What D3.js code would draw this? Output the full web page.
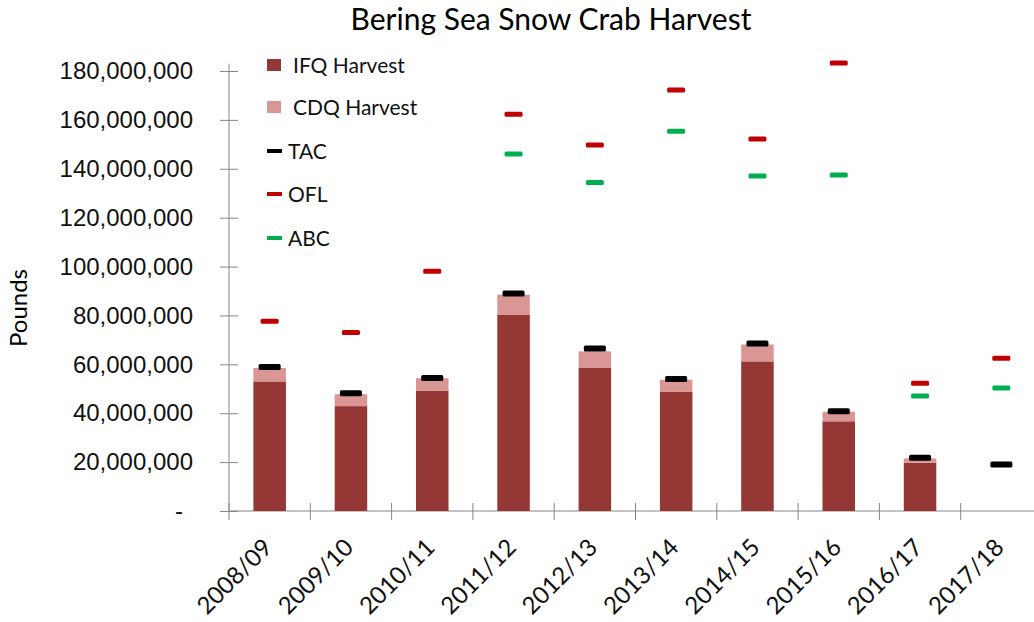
<!DOCTYPE html>
<html>
<head>
<meta charset="utf-8">
<script src="https://cdn.jsdelivr.net/npm/d3@7"></script>
<style>
  body { margin: 0; background: #fff; }
  svg { font-family: Lato, "Open Sans", sans-serif; }
  .axis path, .axis line { stroke: #868686; }
</style>
</head>
<body>
<div id="chart"></div>
<script>
// seasons on the x axis
const seasons = ['2008/09', '2009/10', '2010/11', '2011/12', '2012/13',
                 '2013/14', '2014/15', '2015/16', '2016/17', '2017/18'];
// harvest, pounds (null = no harvest yet)
const ifq = [53.0e6, 42.9e6, 49.1e6, 80.2e6, 58.5e6, 48.7e6, 61.2e6, 36.7e6, 19.7e6, null];
const cdq = [5.5e6, 4.9e6, 5.2e6, 8.3e6, 6.8e6, 5.0e6, 6.9e6, 3.9e6, 1.8e6, null];
// reference points
const tac = [58.9e6, 48.2e6, 54.4e6, 89.0e6, 66.5e6, 54.0e6, 68.5e6, 40.8e6, 21.8e6, 19.0e6];
const ofl = [77.6e6, 73.0e6, 98.1e6, 162.3e6, 149.7e6, 172.2e6, 152.2e6, 183.3e6, 52.3e6, 62.5e6];
const abc = [null, null, null, 146.0e6, 134.4e6, 155.4e6, 137.0e6, 137.5e6, 47.0e6, 50.3e6];
const yTicks = [0, 20e6, 40e6, 60e6, 80e6, 100e6, 120e6, 140e6, 160e6, 180e6];

const width = 1034, height = 622;
const margin = { t: 71, r: -8, b: 111, l: 229 };

const svg = d3.select('#chart').append('svg')
    .attr('width', width)
    .attr('height', height);

const x = d3.scaleBand()
    .domain(seasons)
    .range([margin.l, width - margin.r])
    .paddingInner(0)
    .paddingOuter(0);

const y = d3.scaleLinear()
    .domain([0, 180e6])
    .range([height - margin.b, margin.t]);

// title
svg.append('text')
    .attr('x', 551)
    .attr('y', 30)
    .attr('text-anchor', 'middle')
    .style('font-size', '30px')
    .text('Bering Sea Snow Crab Harvest');

// y axis label
svg.append('text')
    .attr('transform', 'translate(27,308) rotate(-90)')
    .attr('text-anchor', 'middle')
    .style('font-size', '24px')
    .text('Pounds');

// y axis
const axisY = d3.axisLeft(y)
    .tickValues(yTicks)
    .tickFormat(d => d === 0 ? '-' : d3.format(',')(d));

const gy = svg.append('g')
    .attr('class', 'axis axis-y')
    .attr('transform', `translate(${margin.l},0)`)
    .call(axisY);
gy.select('.domain').attr('d', `M0,${y(183e6)}V${y(0)}`);
gy.selectAll('.tick line').attr('x1', -9).attr('x2', 9);
gy.selectAll('.tick text')
    .attr('x', d => d === 0 ? -46 : -36)
    .style('font-size', '24px')
    .attr('fill', '#111');

// x axis: ticks sit on the band edges
const gx = svg.append('g')
    .attr('class', 'axis axis-x')
    .attr('transform', `translate(0,${y(0)})`);
gx.append('path')
    .attr('d', `M${x.range()[0]},0H${x.range()[1]}`)
    .attr('fill', 'none');
gx.selectAll('.edge')
    .data(seasons)
    .enter().append('line')
    .attr('class', 'edge')
    .attr('x1', d => x(d)).attr('x2', d => x(d))
    .attr('y1', -8).attr('y2', 9);

gx.selectAll('.lbl')
    .data(seasons)
    .enter().append('text')
    .attr('class', 'lbl')
    .attr('transform', d => `translate(${x(d) + x.bandwidth() / 2 + 4},${38}) rotate(-45)`)
    .attr('text-anchor', 'end')
    .style('font-size', '24px')
    .attr('fill', '#111')
    .text(d => d);

// stacked bars
const barW = x.bandwidth() * 0.4;
const bars = svg.append('g').attr('class', 'bars');

bars.selectAll('.ifq')
    .data(seasons.filter((s, i) => ifq[i] != null))
    .enter().append('rect')
    .attr('class', 'ifq')
    .attr('x', d => x(d) + (x.bandwidth() - barW) / 2)
    .attr('width', barW)
    .attr('y', d => y(ifq[seasons.indexOf(d)]))
    .attr('height', d => y(0) - y(ifq[seasons.indexOf(d)]))
    .attr('fill', '#953735');

bars.selectAll('.cdq')
    .data(seasons.filter((s, i) => cdq[i] != null))
    .enter().append('rect')
    .attr('class', 'cdq')
    .attr('x', d => x(d) + (x.bandwidth() - barW) / 2)
    .attr('width', barW)
    .attr('y', d => { const i = seasons.indexOf(d); return y(ifq[i] + cdq[i]); })
    .attr('height', d => { const i = seasons.indexOf(d); return y(ifq[i]) - y(ifq[i] + cdq[i]); })
    .attr('fill', '#d99694');

// dash markers
function dashes(cls, values, color, w, h) {
    const pts = seasons.map((s, i) => ({ s: s, v: values[i] })).filter(d => d.v != null);
    svg.append('g').selectAll('rect')
        .data(pts)
        .enter().append('rect')
        .attr('class', cls)
        .attr('x', d => x(d.s) + x.bandwidth() / 2 - w / 2)
        .attr('y', d => y(d.v) - h / 2)
        .attr('width', w)
        .attr('height', h)
        .attr('rx', 1.5)
        .attr('fill', color);
}
dashes('ofl', ofl, '#c00000', 18, 5);
dashes('abc', abc, '#00b050', 18, 5);
dashes('tac', tac, '#000000', 22, 6);

// legend
const legend = [
    { name: 'IFQ Harvest', color: '#953735', type: 'box', y: 65 },
    { name: 'CDQ Harvest', color: '#d99694', type: 'box', y: 107 },
    { name: 'TAC', color: '#000000', type: 'line', y: 151 },
    { name: 'OFL', color: '#c00000', type: 'line', y: 194 },
    { name: 'ABC', color: '#00b050', type: 'line', y: 238 }
];
const lg = svg.append('g').attr('class', 'legend');
const item = lg.selectAll('g').data(legend).enter().append('g')
    .attr('transform', d => `translate(267,${d.y})`);
item.filter(d => d.type === 'box').append('rect')
    .attr('x', 0).attr('y', -6).attr('width', 14).attr('height', 12)
    .attr('fill', d => d.color);
item.filter(d => d.type === 'line').append('rect')
    .attr('x', 0).attr('y', -2).attr('width', 15).attr('height', 4)
    .attr('fill', d => d.color);
item.append('text')
    .attr('x', d => d.type === 'box' ? 26 : 21)
    .attr('y', 8)
    .style('font-size', '21px')
    .attr('fill', '#111')
    .text(d => d.name);
</script>
</body>
</html>
